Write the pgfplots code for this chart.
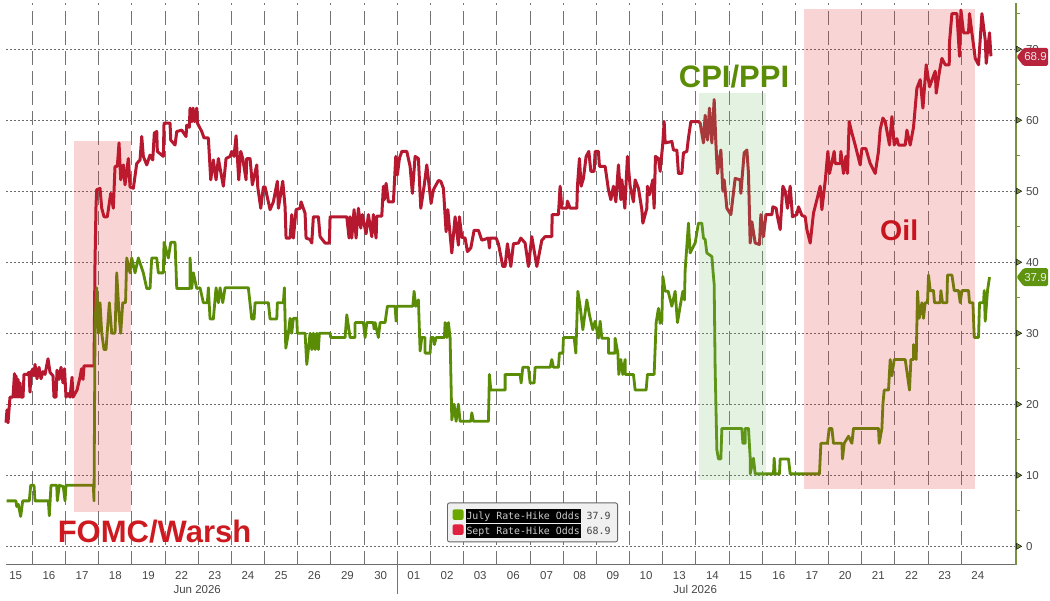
\documentclass[border=0pt]{standalone}
\usepackage{pgfplots}
\usepackage{fontspec}
\setmainfont{Liberation Sans}
\newfontfamily\legfont{DejaVu Sans Mono}
\pgfplotsset{compat=1.18}
\definecolor{rline}{HTML}{B5182F}
\definecolor{gline}{HTML}{5A8C06}
\definecolor{rtag}{HTML}{B8243C}
\definecolor{gtag}{HTML}{5E9410}
\definecolor{raxis}{HTML}{7A9240}
\definecolor{pinkov}{RGB}{225,40,40}
\definecolor{greenov}{RGB}{115,190,105}
\definecolor{legg}{RGB}{106,168,0}
\definecolor{legr}{RGB}{224,32,60}
\newcommand{\legbox}[1]{{\setlength{\fboxsep}{1pt}\colorbox{black}{\rule[-3pt]{0pt}{12.5pt}\textcolor{white!80!black}{#1}}}}
\begin{document}
\begin{tikzpicture}
\useasboundingbox (-6pt,-35.3pt) rectangle (1044pt,564.7pt);
\begin{axis}[
  scale only axis, width=1010pt, height=561.7pt,
  xmin=0.207, xmax=30.65, ymin=-2.59, ymax=76.5,
  clip=false,
  axis x line*=bottom, axis y line*=right,
  x axis line style={-, draw=gray!85!black, line width=1.1pt},
  y axis line style={-, draw=raxis, line width=1.1pt},
  xtick={0.5,1.5,...,29.5},
  xticklabels={15,16,17,18,19,22,23,24,25,26,29,30,01,02,03,06,07,08,09,10,13,14,15,16,17,20,21,22,23,24},
  xtick style={draw=none},
  tick align=outside,
  major tick length=0pt,
  ytick={0,10,...,70},
  minor ytick={5,15,...,75},
  minor tick length=4pt,
  minor y tick style={draw=raxis, line width=.7pt},
  ymajorgrids,
  major grid style={draw=black!58, line width=.7pt, dash pattern=on 2pt off 2pt},
  extra x ticks={1,2,...,29},
  extra x tick labels={},
  extra x tick style={grid=major, major grid style={draw=black!55, line width=.9pt, dash pattern=on 14pt off 6pt}},
  tick label style={font=\fontsize{11.5}{12}\selectfont, text=black!72},
  /pgf/number format/assume math mode=true,
  xticklabel style={yshift=-3.5pt},
  yticklabel style={anchor=west, xshift=6.5pt},
  legend style={at={(0.5213,0.0753)}, anchor=center, fill=black!6, draw=black!60, rounded corners=2pt, line width=.9pt,
     font=\legfont\fontsize{9.9}{11}\selectfont, inner xsep=5pt, inner ysep=4pt, row sep=-1pt},
  legend cell align=left,
  legend image code/.code={\fill[draw=none,#1] (0pt,-5pt) rectangle (11pt,5.5pt);},
]
\addplot[rline, line width=3pt, line join=round, forget plot] table[x expr=(\thisrow{p}-32.3)/33.17+1, y=v, row sep=\\] {
p v\\
6 17.4\\ 7 19.2\\ 8 17.4\\ 9 19.2\\ 10 21\\ 13 21\\ 14.5 24.3\\ 15 21\\ 16 24\\ 17 21\\ 18 23.5\\ 19 21\\ 20 23\\ 21 21\\ 23 21\\ 24 24.2\\ 27 24.2\\ 29 24.5\\ 30 21.7\\ 31 24.5\\ 33 25\\ 34 24\\ 35 25.6\\ 37 23.6\\ 39 25.2\\ 41 23.6\\ 43 24.6\\ 45 24.2\\ 48 26.4\\ 50 24.5\\ 53 24\\ 54 21\\ 56 21\\ 57 24.8\\ 59 23.5\\ 61 25.2\\ 63 23\\ 64.5 25\\ 66 21\\ 68 21.5\\ 70 21\\ 72 23.8\\ 73 21\\ 75 21.5\\ 77 22\\ 80 23.8\\ 81.5 25\\ 83 23.5\\ 84 25.4\\ 93 25.4\\ 94 25.4\\ 95 40\\ 96 48\\
96.7 50.2\\ 100 50.4\\ 101.7 47.6\\ 104 46.4\\ 107.3 46.4\\ 110.7 49.7\\ 113.3 47.6\\ 115 53.5\\ 117.3 53.5\\ 119 56.8\\ 120.7 51.6\\ 123.3 53.7\\ 125 50.9\\ 128.3 54.6\\ 130 50.6\\ 133.3 50.4\\ 136.7 53.9\\ 140 54.4\\ 141.7 57.7\\ 143.3 54.9\\ 146.7 53.7\\ 150 55.1\\ 152.7 54.4\\ 154.3 58.2\\ 156.7 58.4\\ 157.3 55.6\\ 163.3 54.9\\ 164 59.6\\ 170 59.6\\ 170.7 57.2\\ 175 56.5\\ 176.7 58.4\\ 181.7 58.6\\ 186 57.7\\ 186.7 59.3\\ 189.3 59\\ 190 61.7\\ 192 59.8\\ 193 61.7\\ 194.5 59.8\\ 196.7 61.7\\ 197.3 59.6\\ 201.7 58.4\\ 204 57.5\\ 208.3 57.5\\ 210.7 51.6\\ 213.3 54.4\\ 216 51.6\\ 218.3 54.6\\ 223.3 50.7\\ 226 54.6\\ 230 54.9\\ 231.7 55.6\\ 234 54.9\\ 236 57.8\\ 238.7 51.6\\ 240.7 55.6\\ 242.7 54.6\\ 246 51.6\\ 246.7 54.6\\ 250 54.6\\ 252.3 50.9\\ 256.7 53.7\\ 257.7 50.6\\ 260.7 47.6\\ 263.3 50.6\\ 265 50.6\\ 270 47.4\\ 273.3 48.5\\ 277.3 51.4\\ 278.3 47.6\\ 282.7 51.4\\ 285 47.8\\ 286 43.4\\ 290 43.4\\ 291.7 46.7\\ 293.3 43.4\\ 296 47.4\\ 300 47.6\\ 301 48.5\\ 305 46.9\\ 306 43.4\\ 310 43.2\\ 311.7 42.7\\ 313.3 46.4\\ 318.3 46.4\\ 320 43.6\\ 325 42.7\\ 329.3 42.7\\ 330 46.4\\ 346.7 46.4\\ 349 43.4\\
350 46.4\\ 351.7 43.4\\ 354 47.4\\ 356 43.4\\ 358.3 47.6\\ 360.7 44.8\\ 362.3 46.7\\ 366 44\\ 368.3 46.7\\ 371.7 43.6\\ 373.3 46.7\\ 376 43.4\\ 376.7 46.5\\ 381.7 46.5\\ 383.3 50.7\\ 384.3 48.8\\ 386 51.1\\ 388.3 48.5\\ 393.3 48.5\\ 395.7 54.9\\ 397.3 52.3\\ 399.3 54.6\\ 401.7 55.6\\ 406.7 55.6\\ 410 53.5\\ 412.3 49.7\\ 415 54.9\\ 418.3 54.6\\ 420.7 47.6\\ 424 50.7\\ 426.7 53.7\\ 431 48.3\\ 433.3 50.2\\ 438.3 51.5\\ 440.7 51.4\\ 443.3 50.4\\ 446 44.3\\ 447.7 47.4\\ 451.7 41.3\\ 455 46.4\\ 458.3 42.4\\ 459.3 46.4\\ 461.7 43.5\\ 465 43.4\\ 467.3 41.5\\ 470.7 42\\ 474 44.5\\ 478.3 44.5\\ 481.7 43.1\\ 488.3 43.4\\ 489.3 42\\ 490 43.4\\ 496 43.4\\ 498.3 42.6\\ 502.7 39.4\\ 505 39.4\\ 507.3 42.6\\ 510.7 39.4\\ 513.3 42.6\\ 518.3 42.7\\ 520.7 43.4\\ 525 42.7\\ 528.3 39.4\\ 531.7 43.6\\ 536.7 39.4\\ 541.7 43.1\\ 545 43.6\\ 551.7 43.6\\ 552 46.7\\ 554 46.7\\ 558.3 46.7\\ 560 50.7\\ 561.7 47.6\\ 566.7 47.6\\ 567.3 48.6\\ 570 47.6\\ 576.7 47.6\\ 577.3 50.7\\ 579.3 54.6\\ 581 50.7\\ 583.3 51.8\\ 586 54.9\\ 588.7 55.6\\ 590.7 52.8\\ 594 52.8\\ 595 55.6\\ 598.3 55.6\\ 599.3 53.5\\ 605 53.5\\ 608.3 50.2\\ 610.7 48.8\\ 613.3 50.7\\ 615.7 48.5\\ 618.3 53.7\\ 620.7 48.8\\ 621.7 51.6\\ 624.7 47.6\\ 627.3 54.9\\ 630 50.7\\ 633.3 48.5\\ 635 51.6\\ 638.3 50.4\\ 641.7 47.4\\ 642.7 45.5\\ 646.7 47.6\\ 647.3 50.7\\ 649.3 49.5\\ 652.7 51.6\\ 654 47.6\\ 655.3 54.9\\ 658.3 54.6\\ 660 52.8\\ 662.7 56.8\\ 664 59.8\\ 665 56.8\\ 671.7 57\\ 673.3 55.8\\ 676.7 55.8\\ 678.3 52.5\\ 681.7 52.5\\ 683.3 55.4\\ 686.7 55.6\\ 688.3 57.5\\ 690.7 59.8\\ 698.3 59.8\\
700 59.6\\ 703.3 56.8\\ 705 60.7\\ 707.3 57.2\\ 709.3 61.7\\ 711.7 56.8\\ 714 62.9\\ 715.7 56.8\\ 717.3 52.5\\ 720.7 55.8\\ 722.7 50\\ 724 51.6\\ 726.7 47.6\\ 730.7 46.7\\ 735 51.8\\ 740 51.6\\ 740.7 49.7\\ 744 55.4\\ 746.7 55.8\\ 748.3 52.5\\ 750 42.7\\ 751.7 45.7\\ 755 42.7\\ 759.3 42.5\\ 760.7 46.7\\ 763.3 43.6\\ 765.7 46.7\\ 771.7 46.7\\ 772.7 47.8\\ 776 47.6\\ 777.3 46.4\\ 780 44.6\\ 782.7 50.7\\ 785 50\\ 787.3 47.6\\ 790 50.7\\ 792.3 46.4\\ 796.7 46.7\\ 798.3 47.8\\ 801.7 46.6\\ 805 46.4\\ 806.7 44.6\\ 810 42.7\\ 813.3 46.9\\ 816.7 48.8\\ 820 50.7\\ 821.7 47.4\\ 825 51.4\\ 827.7 55.6\\ 829.3 52.5\\ 834 55.6\\ 835 53.9\\ 840 53.9\\ 840.7 55.6\\ 843.3 52.5\\ 845.7 54.9\\ 847.3 52.5\\ 849 59.8\\ 851.7 58.2\\ 855 56.5\\ 860 53.7\\ 861.7 56\\ 865.7 56\\ 870 53.9\\ 875 52.5\\ 878.3 55.6\\ 880 58.7\\ 882.7 60.3\\ 885 59.8\\ 889.3 56.5\\ 891.7 60.5\\ 894 56.5\\ 896.7 57.4\\ 898.3 56.5\\ 905 56.5\\ 906.7 58.6\\ 910 56.5\\ 913.3 59\\ 916.7 64.5\\ 920 65.7\\ 922.7 61.7\\ 926 67.8\\ 929.3 64.7\\ 935 66.9\\ 936 63.8\\ 939.3 66.9\\ 941.7 68.7\\ 945 67.8\\ 949 67.8\\ 949.3 71\\ 951.7 75\\ 956.7 75\\ 959.3 69\\ 960.7 75.5\\ 963.3 72.3\\ 968.3 72.3\\ 969.3 75\\ 971.7 72.3\\ 975 68.7\\ 978.3 67.8\\ 981.7 75\\ 985 71.3\\ 986 68\\ 989.3 72.3\\ 990.7 69\\
};
\addplot[gline, line width=2.8pt, line join=round, forget plot] table[x expr=(\thisrow{p}-32.3)/33.17+1, y=v, row sep=\\] {
p v\\
6.7 6.4\\ 16 6.4\\ 16.7 5.6\\ 18.3 5.9\\ 20.7 4.2\\ 22.7 6.4\\ 29.3 6.4\\ 30.7 8.6\\ 34 8.6\\ 35 6.4\\ 48.3 6.4\\ 49.3 4.3\\ 51 8.6\\ 56.7 8.6\\ 57.3 6.4\\ 59.3 8.6\\ 63.3 8.4\\ 65 6.4\\ 66 8.6\\ 93.3 8.6\\ 94 6.4\\ 95 31\\ 96.7 36.4\\ 98.3 30\\ 100 34.3\\ 101.7 30\\ 104 27.7\\ 106 27.7\\ 109.3 34.3\\ 111.7 30\\ 115 30\\ 116.7 38.5\\ 119.3 32\\ 120.7 30\\ 122.7 34.3\\ 125.5 34.3\\
126.7 40.6\\ 130 38.5\\ 131.7 40.6\\ 135 38.5\\ 138.3 40.6\\ 143.3 38.5\\ 146.7 36.3\\ 150 36.3\\ 151.7 40.6\\ 156.7 40.6\\ 158.3 38.5\\ 163.3 38.5\\ 164 42.8\\ 168.3 40.6\\ 170.7 42.8\\ 175 42.8\\ 176.7 36.3\\ 190 36.3\\ 190 40.6\\ 191.7 36.3\\ 193.3 38.5\\ 196.7 36.3\\ 200 36.4\\ 203.3 34.3\\ 207.3 34.3\\ 208.3 36.4\\ 210 32\\ 213.3 32\\ 216 36.4\\ 218.3 34.3\\ 220 36.4\\ 222.7 34.3\\ 225 36.4\\ 248.3 36.4\\ 251.7 32\\ 254 32\\ 255 34.3\\ 268.3 34.3\\ 270 32\\ 276.7 32\\ 277.3 34.3\\ 283.3 34.3\\ 284.3 36.4\\ 285.7 27.9\\ 288.3 30\\ 290 32.1\\ 291.7 30\\ 293.3 32.1\\ 296.7 32.1\\ 297.3 30\\ 305 30\\ 306.7 25.6\\ 308.3 27.7\\ 310 30\\ 311.7 27.7\\ 313.3 30\\ 315 27.7\\ 316.7 30\\ 318.3 27.7\\ 319.3 30\\ 330 30\\ 330.7 29.4\\ 345 29.4\\ 346.7 32.6\\ 350 29.4\\
351.7 29.4\\ 355 29.4\\ 355 31.5\\ 363.3 31.5\\ 365 29.4\\ 366.7 31.5\\ 373.3 31.5\\ 374 30.6\\ 375 31.5\\ 378.3 29.4\\ 380 31.5\\ 385 31.5\\ 387.3 33.8\\ 395 33.8\\ 396 31.7\\ 396.7 33.8\\ 412.7 33.8\\ 414 35.9\\ 415.7 33.8\\ 418.3 34.7\\ 420 27.5\\ 421.7 29.4\\ 425 29.4\\ 425 27.2\\ 430 27.2\\ 431 29.4\\ 433.3 29.4\\ 434.3 28.4\\ 436 29.4\\ 444.3 29.4\\ 445 31.5\\ 446.7 29.4\\ 448.3 31.5\\ 450 29.4\\ 451.7 17.8\\ 454 20\\ 456 17.6\\ 458.3 20\\ 460 17.6\\ 470.7 17.6\\ 471.7 18.8\\ 473.3 17.6\\ 488.3 17.6\\ 489.3 24.2\\ 490.7 22\\ 505 22\\ 505 24.2\\ 520 24.2\\ 521 23\\ 522.7 25.2\\ 528.3 25.2\\ 530 23\\ 534 23\\ 535 25.2\\ 550 25.2\\ 551.7 26.3\\ 553.3 25.2\\ 558.3 25.2\\ 559.3 27.2\\ 562.7 27.2\\ 563.3 29.4\\ 574 29.4\\ 575.7 27.2\\ 577.7 35.9\\ 580 33.8\\ 582.7 30.5\\ 586.7 34.7\\ 589.3 32.6\\ 592.7 30.5\\ 595 31.7\\ 598.3 29.3\\ 600 31.7\\ 601.7 29.3\\ 608.3 29.3\\ 608.3 27.2\\ 615 27.2\\ 615 29.3\\ 617.7 27.2\\ 618.7 24.2\\ 620.7 26.3\\ 622.7 24.2\\ 625 26.3\\ 625 24.2\\ 633.3 24.2\\ 635 22\\ 646 22\\ 647.3 24.2\\ 654 24.2\\ 656 31.5\\ 658.3 33.5\\ 660 31.4\\ 661.7 31.7\\ 662.7 38\\ 665 35.9\\ 668 35.9\\ 671.7 33.8\\ 675 35.9\\ 677.3 31.5\\ 680 33.8\\ 682.7 35.9\\ 684.3 34.7\\ 685 38.9\\ 688.3 45.5\\ 690 41.3\\ 695 42.7\\ 698.3 45.5\\
701.7 45.5\\ 703.3 43.4\\ 705 43.2\\ 706.7 41.3\\ 711.7 40.8\\ 713 38.5\\ 714 36.9\\ 715 24.9\\ 716.7 13.6\\ 718.3 12.3\\ 720.7 12.3\\ 721.7 16.6\\ 741.7 16.6\\ 742.7 14.5\\ 745 14.5\\ 745 16.6\\ 748.3 16.6\\ 750 12.5\\ 750 10.2\\ 753.3 12.4\\ 755 10.2\\ 773.3 10.2\\ 774 12.4\\ 775 10.2\\ 779.3 10.2\\ 780 12.3\\ 788.3 12.3\\ 790 10.2\\ 819.3 10.2\\ 820.7 14.5\\ 827.3 14.5\\ 829 16.6\\ 831.7 16.6\\ 833.3 14.5\\ 841.7 14.5\\ 842.3 12.3\\ 844 14.5\\ 848.3 15.5\\ 851.7 14.5\\ 853.3 16.6\\ 878.3 16.6\\ 879 14.5\\ 881.7 16.6\\ 882.7 20\\ 884 22\\ 888.3 22\\ 890 26.3\\ 891.7 24\\ 894 26.3\\ 905 26.3\\ 907.3 24\\ 909.3 22\\ 910.7 26.3\\ 913.3 26.3\\ 913.3 28.4\\ 916 26.3\\ 917.3 35.9\\ 919 32.1\\ 921.7 34.3\\ 923.3 32.1\\ 925 34.3\\ 927.3 34.3\\ 928.3 38.2\\ 930 36\\ 933.3 36\\ 934.3 34.3\\ 940 34.3\\ 940.7 36\\ 942.3 34.3\\ 946.7 34.3\\ 947.3 38.2\\ 951.7 38.2\\ 954 36\\ 958.3 36\\ 960 34.3\\ 961.7 36\\ 968.3 36\\ 969.3 34.3\\ 972.7 34.3\\ 974 29.4\\ 978.3 29.4\\ 979.3 34.3\\ 983.3 34.3\\ 984 36\\ 985 31.7\\ 987.3 36\\ 989.3 37.9\\
};
\addplot[draw=none, fill=pinkov, fill opacity=.2, forget plot] coordinates {(2.257,4.8) (3.976,4.8) (3.976,57) (2.257,57)} --cycle;
\addplot[draw=none, fill=pinkov, fill opacity=.2, forget plot] coordinates {(24.27,8.1) (29.42,8.1) (29.42,75.7) (24.27,75.7)} --cycle;
\addplot[draw=none, fill=greenov, fill opacity=.2, forget plot] coordinates {(21.1,9.4) (23.12,9.4) (23.12,63.8) (21.1,63.8)} --cycle;
% right-axis tick triangles
\addplot[only marks, mark=triangle*, mark size=3.4pt, mark options={rotate=-90, fill=raxis, draw=none}, forget plot] coordinates {(30.72,0) (30.72,10) (30.72,20) (30.72,30) (30.72,40) (30.72,50) (30.72,60) (30.72,70)};
\addlegendimage{fill=legg}
\addlegendentry{\legbox{July Rate-Hike Odds} \textcolor{black!75}{37.9}}
\addlegendimage{fill=legr}
\addlegendentry{\legbox{Sept Rate-Hike Odds} \textcolor{black!75}{68.9}}
% annotations
\node[font=\bfseries\fontsize{31}{32}\selectfont, text={rgb,255:red,205;green,26;blue,32}] at (axis cs:4.684,2.01) {FOMC/Warsh};
\node[font=\bfseries\fontsize{31}{32}\selectfont, text=gline] at (axis cs:22.15,66.1) {CPI/PPI};
\node[font=\bfseries\fontsize{28.5}{30}\selectfont, text={rgb,255:red,200;green,20;blue,30}] at (axis cs:27.13,44.5) {Oil};
\node[font=\fontsize{11.5}{12}\selectfont, text=black!72] at (axis cs:5.97,-2.59) [yshift=-24.5pt] {Jun 2026};
\node[font=\fontsize{11.5}{12}\selectfont, text=black!72] at (axis cs:20.98,-2.59) [yshift=-24.5pt] {Jul 2026};
\coordinate (sep) at (axis cs:12,-2.59);
\coordinate (tagR) at (axis cs:30.65,68.9);
\coordinate (tagG) at (axis cs:30.65,37.9);
\end{axis}
\draw[black!55, line width=.9pt] (sep) -- ([yshift=-29.5pt]sep);
\fill[rtag, rounded corners=1.5pt] ([xshift=.5pt]tagR) -- ++(7pt,9pt) -- ++(24.5pt,0) -- ++(0,-18pt) -- ++(-24.5pt,0) -- cycle;
\node[text=white!92!black, font=\fontsize{11.5}{12}\selectfont] at ([xshift=19.5pt]tagR) {68.9};
\fill[gtag, rounded corners=1.5pt] ([xshift=.5pt]tagG) -- ++(7pt,9pt) -- ++(24.5pt,0) -- ++(0,-18pt) -- ++(-24.5pt,0) -- cycle;
\node[text=white!92!black, font=\fontsize{11.5}{12}\selectfont] at ([xshift=19.5pt]tagG) {37.9};
\end{tikzpicture}
\end{document}
